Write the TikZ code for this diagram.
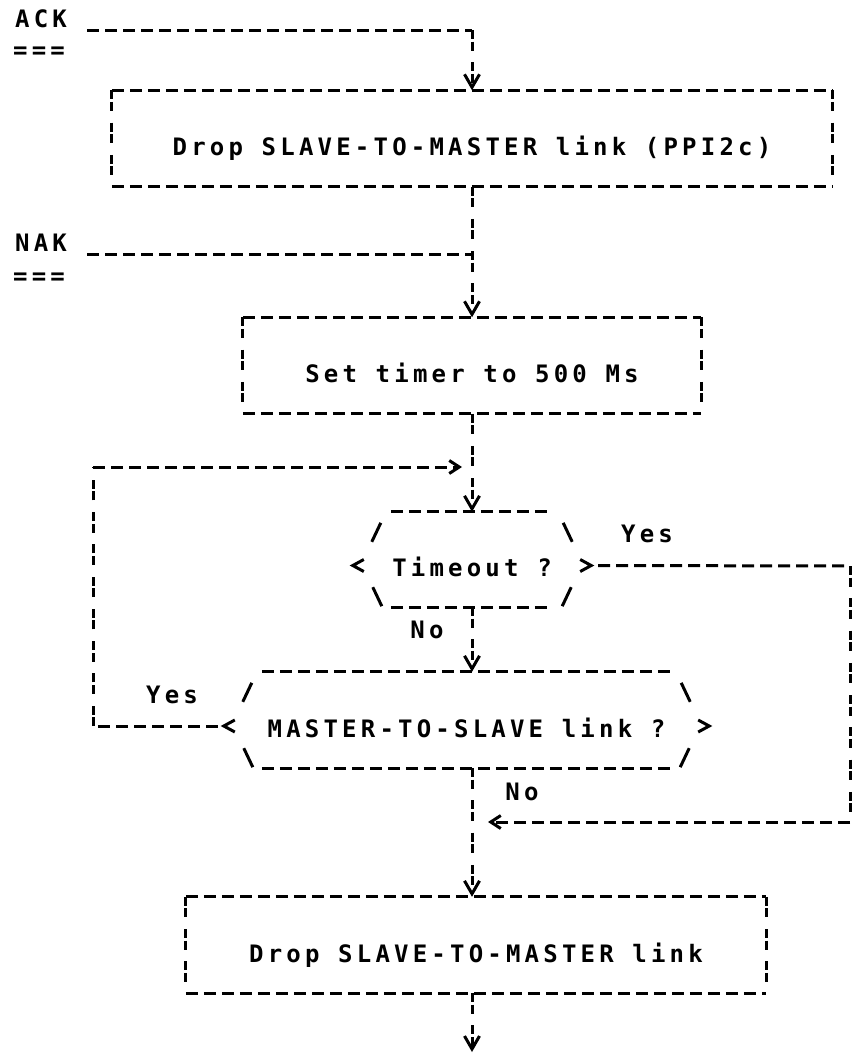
\documentclass[tikz,border=0pt]{standalone}
\usepackage{fontspec}
\newfontfamily\asciifont{DejaVu Sans Mono}[LetterSpace=17.5]
\usetikzlibrary{arrows.meta,calc}

\begin{document}
\begin{tikzpicture}[
    x=1pt,y=-1pt,
    every node/.style={font=\asciifont\bfseries\fontsize{24}{28}\selectfont,
        inner sep=0pt,text height=17pt,text depth=0pt},
    block/.style={text height=34pt,minimum height=96pt},
    hline/.style={line width=3pt,dash pattern=on 12pt off 6pt},
    vline/.style={line width=3pt,dash pattern=on 9pt off 2.5pt on 9pt off 11.75pt},
    stroke/.style={line width=3pt},
    varrow/.style={-{Straight Barb[length=13pt,width=15pt]}},
    harrow/.style={-{Straight Barb[length=10pt,width=13pt]}},
]
\useasboundingbox (0,0) rectangle (853,1055);

% Incoming frames
\node[anchor=west] (ack)    at (15,19)  {ACK};
\node[anchor=west] (ackbar) at (13,50)  {===};
\node[anchor=west] (nak)    at (15,243) {NAK};
\node[anchor=west] (nakbar) at (13,276) {===};

% Actions
\node[block,minimum width=720pt] (drop1) at (472,138.5) {Drop SLAVE-TO-MASTER link (PPI2c)};
\node[block,minimum width=458pt] (timer) at (472,365.5) {Set timer to 500 Ms};
\node[block,minimum width=580pt] (drop2) at (476,945)   {Drop SLAVE-TO-MASTER link};

% Tests
\node[block,minimum width=240pt,minimum height=95pt] (timeout) at (472,559.5) {Timeout ?};
\node[block,minimum width=487pt] (mts) at (466.5,720) {MASTER-TO-SLAVE link ?};

% Box outlines: dashes across, broken bars down
\foreach \b in {drop1,timer,drop2} {
  \draw[hline] (\b.north west) -- (\b.north east) (\b.south west) -- (\b.south east);
  \draw[vline] (\b.north west) -- (\b.south west) (\b.north east) -- (\b.south east);
}

% Test outlines: / \ < > corners
\foreach \d in {timeout,mts} {
  \draw[hline] ($(\d.north west)+(39,0)$) -- ($(\d.north east)+(-40,0)$)
               ($(\d.south west)+(39,0)$) -- ($(\d.south east)+(-40,0)$);
  \draw[stroke] ($(\d.north west)+(20,30)$) -- ($(\d.north west)+(29,11)$)
                ($(\d.north east)+(-29,11)$) -- ($(\d.north east)+(-20,30)$)
                ($(\d.south west)+(21,-20)$) -- ($(\d.south west)+(30,-1)$)
                ($(\d.south east)+(-21,-20)$) -- ($(\d.south east)+(-30,-1)$);
  \draw[stroke] ($(\d.west)+(12,0)$) -- ($(\d.west)+(1,6)$) -- ($(\d.west)+(12,12)$)
                ($(\d.east)+(-12,0)$) -- ($(\d.east)+(-1,6)$) -- ($(\d.east)+(-12,12)$);
}

% Main flow
\coordinate (ackc) at (472,30);
\coordinate (nakc) at (472,254);
\coordinate (out)  at (472,1052);
\draw[hline] ([xshift=20pt,yshift=-11pt]ack.east) -- (ackc);
\draw[vline,varrow] (ackc) -- (drop1.north);
\draw[vline,varrow] (drop1.south) -- (timer.north);
\draw[hline] ([xshift=20pt,yshift=-11pt]nak.east) -- (nakc);
\draw[vline,varrow] (timer.south) -- (timeout.north);
\draw[vline,varrow] (timeout.south) -- (timeout.south |- mts.north);
\draw[vline,varrow] (mts.south -| timer.south) -- (timer.south |- drop2.north);
\draw[vline,varrow] (timer.south |- drop2.south) -- (out);

% Yes from MASTER-TO-SLAVE test: back round to the timeout test
\coordinate (lb) at (93,726);
\coordinate (lt) at (93,467);
\draw[hline] ([xshift=-5pt,yshift=-6pt]mts.west) -- (lb);
\draw[vline] (lb) -- (lt);
\draw[hline,harrow,shorten >=10pt] (lt) -- (timer.south |- lt);

% Yes from timeout test: straight down to the last drop
\coordinate (rt) at (850,566);
\coordinate (rb) at (850,822);
\draw[hline] ([xshift=6pt,yshift=-6pt]timeout.east) -- (rt);
\draw[vline] (rt) -- (rb);
\draw[hline,harrow,shorten >=16pt] (rb) -- (timer.south |- rb);

% Branch labels
\node (yes1) at (647,533.5) {Yes};
\node (no1)  at (427,630)   {No};
\node (yes2) at (172,695)   {Yes};
\node (no2)  at (522,791.5) {No};
\end{tikzpicture}
\end{document}
